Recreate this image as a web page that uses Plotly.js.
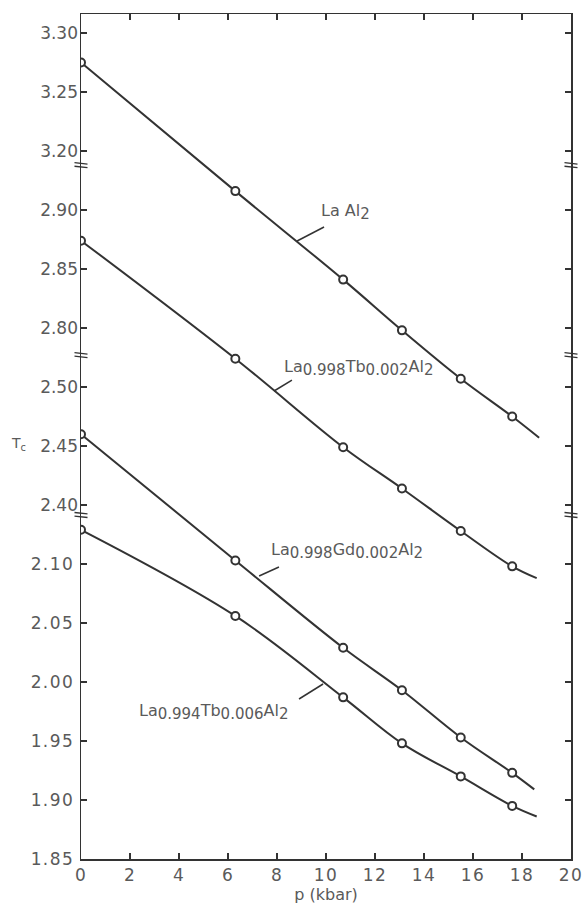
<!DOCTYPE html>
<html>
<head>
<meta charset="utf-8">
<script src="https://cdn.plot.ly/plotly-3.0.1.min.js"></script>
<style>
html,body{margin:0;padding:0;background:#fff;}
#chart{width:582px;height:905px;}
#chart .xtick text, #chart .ytick text{letter-spacing:1.4px;}
</style>
</head>
<body>
<div id="chart"></div>
<script>
// Pressure (kbar) at which Tc was measured
const pressure = [0, 6.3, 10.7, 13.1, 15.5, 17.6];

// Tc (K) for each sample
const tcLaAl2      = [3.275, 3.166, 3.091, 3.048, 3.007, 2.975];
const tcTb002      = [2.874, 2.774, 2.699, 2.664, 2.628, 2.598];
const tcGd002      = [2.460, 2.353, 2.279, 2.243, 2.203, 2.173];
const tcTb006      = [2.129, 2.056, 1.987, 1.948, 1.920, 1.895];

// end of each drawn curve (extrapolated line end)
const endP  = [18.7, 18.6, 18.5, 18.6];
const endTc = [2.957, 2.588, 2.159, 1.886];

// tick labels of each axis segment
const ticksSeg0 = [1.85, 1.90, 1.95, 2.00, 2.05, 2.10];
const ticksSeg1 = [2.40, 2.45, 2.50];
const ticksSeg2 = [2.80, 2.85, 2.90];
const ticksSeg3 = [3.20, 3.25, 3.30];
const xTicks = [0, 2, 4, 6, 8, 10, 12, 14, 16, 18, 20];

const series = [
  {name: 'LaAl2', tc: tcLaAl2, axis: 'y4'},
  {name: 'La0.998Tb0.002Al2', tc: tcTb002, axis: 'y3'},
  {name: 'La0.998Gd0.002Al2', tc: tcGd002, axis: 'y2'},
  {name: 'La0.994Tb0.006Al2', tc: tcTb006, axis: 'y'}
];

const lineCol = '#333';
const textCol = '#5a5a5a';
const traces = [];
series.forEach((s, i) => {
  traces.push({
    x: pressure.concat([endP[i]]), y: s.tc.concat([endTc[i]]),
    yaxis: s.axis, mode: 'lines', type: 'scatter',
    line: {color: lineCol, width: 2, shape: 'spline', smoothing: 1},
    hoverinfo: 'skip', showlegend: false
  });
  traces.push({
    x: pressure, y: s.tc, yaxis: s.axis, mode: 'markers', type: 'scatter',
    marker: {symbol: 'circle', size: 8, color: '#fff', line: {color: lineCol, width: 2}},
    showlegend: false, name: s.name
  });
});

// axis geometry: each segment shares pixel scale, shifted by 0.25 K
const baseRange = [1.85, 2.5661];
const shifts = [0, 0.25, 0.5, 0.75];
const segTicks = [ticksSeg0, ticksSeg1, ticksSeg2, ticksSeg3];
const tickFont = {family: 'DejaVu Sans', size: 17, color: textCol};

function yAxis(k) {
  const ax = {
    range: [baseRange[0] + shifts[k], baseRange[1] + shifts[k]],
    tickmode: 'array', tickvals: segTicks[k], tickformat: '.2f',
    ticks: 'inside', ticklen: 6, tickwidth: 1.5, tickcolor: lineCol,
    mirror: 'ticks', showgrid: false, zeroline: false,
    tickfont: tickFont, anchor: 'x', side: 'left', fixedrange: true,
    ticklabelstandoff: 2
  };
  if (k === 0) {
    ax.showline = true; ax.linecolor = lineCol; ax.linewidth = 1.5;
  } else {
    ax.overlaying = 'y'; ax.showline = false;
  }
  return ax;
}

// axis break marks (paper fractions of plot height)
const breakPos = [0.4071, 0.5963, 0.8211];
const shapes = [];
breakPos.forEach(b => {
  [0, 1].forEach(xa => {
    [-1.8, 1.8].forEach(dy => {
      shapes.push({type: 'line', xref: 'paper', yref: 'paper',
        xsizemode: 'pixel', xanchor: xa, x0: -6.5, x1: 6.5,
        ysizemode: 'pixel', yanchor: b, y0: dy + 0.7, y1: dy - 0.7,
        line: {color: lineCol, width: 1.3}});
    });
  });
});

// label leader lines (bottom-segment coordinates)
const leaders = [
  [8.82, 2.3737, 9.92, 2.3856],
  [7.88, 2.2466, 8.61, 2.2559],
  [7.27, 2.0898, 8.08, 2.0975],
  [8.90, 1.9856, 9.88, 1.9983]
];
leaders.forEach(l => shapes.push({type: 'line', xref: 'x', yref: 'y',
  x0: l[0], y0: l[1], x1: l[2], y1: l[3], line: {color: lineCol, width: 1.5}}));

const S = t => '<sub><span style="font-size:15px">' + t + '</span></sub>';
const annFont = {family: 'DejaVu Sans', size: 16, color: textCol};
const annotations = [
  {x: 9.71, y: 2.398, text: 'La Al' + S('2')},
  {x: 8.2, y: 2.2661, text: 'La' + S('0.998') + 'Tb' + S('0.002') + 'Al' + S('2')},
  {x: 7.67, y: 2.111, text: 'La' + S('0.998') + 'Gd' + S('0.002') + 'Al' + S('2')},
  {x: 2.29, y: 1.9746, text: 'La' + S('0.994') + 'Tb' + S('0.006') + 'Al' + S('2')}
].map(a => Object.assign({xref: 'x', yref: 'y', xanchor: 'left', yanchor: 'middle',
  showarrow: false, font: annFont}, a));
annotations.push({xref: 'paper', yref: 'y', x: -0.128, y: 2.2017, xanchor: 'center',
  yanchor: 'middle', showarrow: false, text: 'T' + '<sub>c</sub>',
  font: {family: 'DejaVu Sans', size: 14, color: textCol}});

const layout = {
  width: 582, height: 905,
  margin: {l: 81, r: 11, t: 14, b: 46},
  paper_bgcolor: '#fff', plot_bgcolor: '#fff',
  showlegend: false,
  xaxis: {
    range: [0, 20], tickmode: 'array', tickvals: xTicks,
    ticks: 'inside', ticklen: 6, tickwidth: 1.5, tickcolor: lineCol,
    showline: true, linecolor: lineCol, linewidth: 1.5, mirror: 'ticks',
    showgrid: false, zeroline: false, tickfont: tickFont, fixedrange: true,
    title: {text: 'p (kbar)', font: {family: 'DejaVu Sans', size: 16, color: textCol}, standoff: 1},
    automargin: false
  },
  yaxis: yAxis(0), yaxis2: yAxis(1), yaxis3: yAxis(2), yaxis4: yAxis(3),
  shapes: shapes, annotations: annotations
};

Plotly.newPlot('chart', traces, layout, {staticPlot: true, displayModeBar: false});
</script>
</body>
</html>
